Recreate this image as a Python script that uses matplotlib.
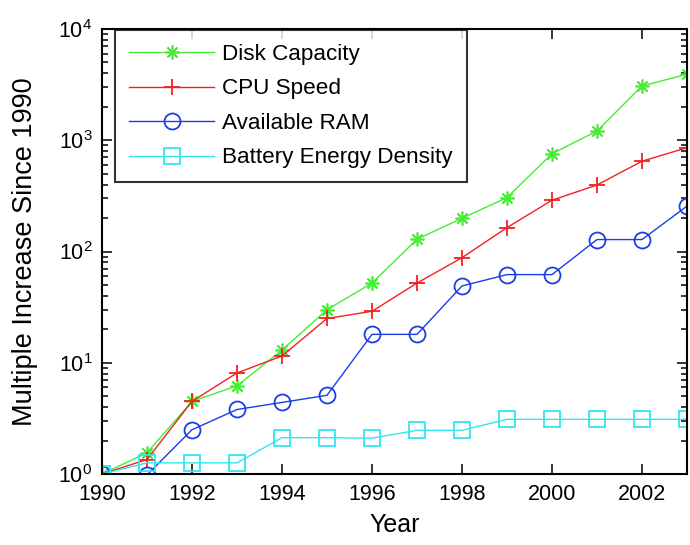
import matplotlib
matplotlib.use("Agg")
import matplotlib.pyplot as plt
from matplotlib.ticker import LogLocator, FixedLocator

plt.rcParams['font.family'] = ['Liberation Sans', 'DejaVu Sans']
plt.rcParams['mathtext.fontset'] = 'custom'
plt.rcParams['mathtext.rm'] = 'Liberation Sans'

years = [1990, 1991, 1992, 1993, 1994, 1995, 1996, 1997, 1998, 1999, 2000, 2001, 2002, 2003]
disk = [1, 1.55, 4.5, 6.2, 13, 30, 52, 129, 199, 305, 757, 1210, 3076, 3920]
cpu = [1, 1.35, 4.5, 8.1, 11.5, 25, 29, 52, 88, 164, 289, 396, 648, 857]
ram = [1, 0.98, 2.5, 3.8, 4.4, 5.1, 18, 18, 49, 62, 62, 128, 128, 256]
battery = [1, 1.26, 1.26, 1.26, 2.12, 2.12, 2.1, 2.47, 2.47, 3.1, 3.1, 3.1, 3.1, 3.1]
labels = ["Disk Capacity", "CPU Speed", "Available RAM", "Battery Energy Density"]
xticks = [1990, 1992, 1994, 1996, 1998, 2000, 2002]

fig = plt.figure(figsize=(6.9, 5.45), dpi=100)
W, H = 690.0, 545.0
L, R, T, B = 102, 687, 29, 474
ax = fig.add_axes([L / W, 1 - B / H, (R - L) / W, (B - T) / H])

lw = 1.0
ax.plot(years, disk, color='#44ee33', marker=(8, 2, 0), markersize=10, lw=lw,
        markeredgewidth=1.2, label=labels[0])
ax.plot(years, cpu, color='#ee2222', marker='+', markersize=11, lw=lw,
        markeredgewidth=1.3, label=labels[1])
ax.plot(years, ram, color='#1a3ee6', marker='o', markersize=11.5, lw=lw,
        markerfacecolor='none', markeredgewidth=1.3, label=labels[2])
ax.plot(years, battery, color='#33e6ee', marker='s', markersize=11.5, lw=lw,
        markerfacecolor='none', markeredgewidth=1.3, label=labels[3])

ax.set_yscale('log')
ax.set_xlim(1990, 2003)
ax.set_ylim(1, 1e4)
ax.xaxis.set_major_locator(FixedLocator(xticks))
ax.yaxis.set_major_locator(LogLocator(base=10, numticks=10))
ax.yaxis.set_minor_locator(LogLocator(base=10, subs=range(2, 10), numticks=10))
ax.tick_params(which='both', direction='in', top=True, right=True, labelsize=15.5,
               width=1.1, pad=7)
ax.tick_params(which='major', length=7)
ax.tick_params(which='minor', length=4)
for s in ax.spines.values():
    s.set_linewidth(1.5)

ax.set_xlabel('Year', fontsize=18)
ax.set_ylabel('Multiple Increase Since 1990', fontsize=19.5)
ax.xaxis.set_label_coords(0.5, -(513 - B) / (B - T))
ax.yaxis.set_label_coords(-(102 - 38) / (R - L), 0.5)

leg = ax.legend(loc='upper left', bbox_to_anchor=((115 - L) / (R - L), 1 - (30 - T) / (B - T)),
                borderaxespad=0, fontsize=16.2, frameon=True, fancybox=False,
                edgecolor='black', handlelength=3.8, handletextpad=0.35,
                borderpad=0.62, labelspacing=0.6)
leg.get_frame().set_linewidth(1.5)

fig.savefig('out.png', dpi=100)
